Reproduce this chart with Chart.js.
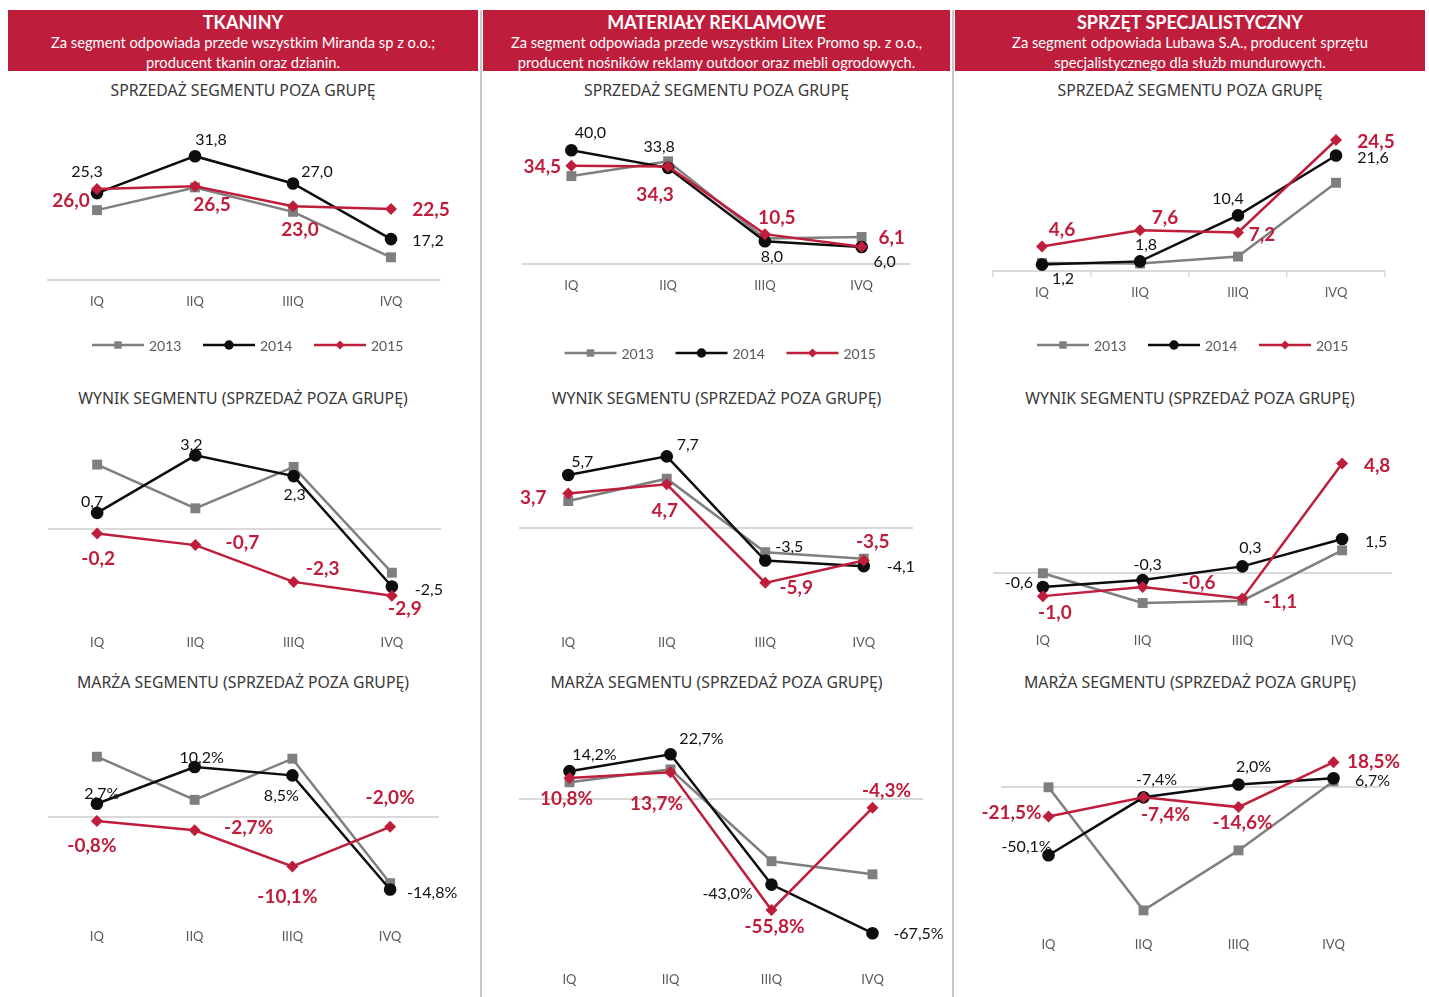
<!DOCTYPE html>
<html>
<head>
<meta charset="utf-8">
<script src="https://cdn.jsdelivr.net/npm/chart.js@4"></script>
<style>
  body { margin: 0; width: 1429px; height: 997px; position: relative; overflow: hidden; background: #fff; font-family: Lato, sans-serif; }
  .hdr { position: absolute; top: 10px; height: 61px; padding-top: 2px; box-sizing: border-box; background: #be1e3c; color: #fff; text-align: center; }
  .hdr b { display: block; font-size: 18px; line-height: 20px; }
  .hdr span { display: block; font-size: 14.7px; line-height: 20px; }
  .ttl { position: absolute; height: 20px; line-height: 20px; text-align: center; font-family: 'Noto Sans', sans-serif; font-size: 15.8px; color: #383838; }
  .vl { position: absolute; top: 10px; bottom: 0; width: 2px; background: #c8c8c8; }
  canvas { position: absolute; }
</style>
</head>
<body>
<div class="vl" style="left:480px"></div>
<div class="vl" style="left:952px"></div>

<div class="hdr" style="left:8px;width:470px"><b>TKANINY</b><span>Za segment odpowiada przede wszystkim Miranda sp z o.o.;</span><span>producent tkanin oraz dzianin.</span></div>
<div class="hdr" style="left:483px;width:467px"><b>MATERIAŁY REKLAMOWE</b><span>Za segment odpowiada przede wszystkim Litex Promo sp. z o.o.,</span><span>producent nośników reklamy outdoor oraz mebli ogrodowych.</span></div>
<div class="hdr" style="left:955px;width:470px"><b>SPRZĘT SPECJALISTYCZNY</b><span>Za segment odpowiada Lubawa S.A., producent sprzętu</span><span>specjalistycznego dla służb mundurowych.</span></div>

<div id="titles"></div>

<script>
const quarters = ['IQ', 'IIQ', 'IIIQ', 'IVQ'];
const years = ['2013', '2014', '2015'];

// TKANINY
const tkSales13 = [22.3, 26.3, 22.0, 14.0];
const tkSales14 = [25.3, 31.8, 27.0, 17.2];
const tkSales15 = [26.0, 26.5, 23.0, 22.5];
const tkResult13 = [2.8, 0.9, 2.7, -1.9];
const tkResult14 = [0.7, 3.2, 2.3, -2.5];
const tkResult15 = [-0.2, -0.7, -2.3, -2.9];
const tkMargin13 = [12.3, 3.5, 11.9, -13.5];
const tkMargin14 = [2.7, 10.2, 8.5, -14.8];
const tkMargin15 = [-0.8, -2.7, -10.1, -2.0];

// MATERIAŁY REKLAMOWE
const mrSales13 = [30.9, 36.1, 9.0, 9.5];
const mrSales14 = [40.0, 33.8, 8.0, 6.0];
const mrSales15 = [34.5, 34.3, 10.5, 6.1];
const mrResult13 = [2.9, 5.3, -2.6, -3.3];
const mrResult14 = [5.7, 7.7, -3.5, -4.1];
const mrResult15 = [3.7, 4.7, -5.9, -3.5];
const mrMargin13 = [8.6, 15.1, -31.2, -37.8];
const mrMargin14 = [14.2, 22.7, -43.0, -67.5];
const mrMargin15 = [10.8, 13.7, -55.8, -4.3];

// SPRZĘT SPECJALISTYCZNY
const ssSales13 = [1.5, 1.4, 2.7, 16.5];
const ssSales14 = [1.2, 1.8, 10.4, 21.6];
const ssSales15 = [4.6, 7.6, 7.2, 24.5];
const ssResult13 = [0.0, -1.3, -1.2, 1.0];
const ssResult14 = [-0.6, -0.3, 0.3, 1.5];
const ssResult15 = [-1.0, -0.6, -1.1, 4.8];
const ssMargin13 = [0.0, -90.7, -46.5, 4.4];
const ssMargin14 = [-50.1, -7.4, 2.0, 6.7];
const ssMargin15 = [-21.5, -7.4, -14.6, 18.5];

const rowTitles = ['SPRZEDAŻ SEGMENTU POZA GRUPĘ', 'WYNIK SEGMENTU (SPRZEDAŻ POZA GRUPĘ)', 'MARŻA SEGMENTU (SPRZEDAŻ POZA GRUPĘ)'];

const RED = '#be1e3c', BLACK = '#0d0d0d', GREY = '#7f7f7f';

// box = chart area [left, top, right, bottom] in page pixels
const charts = [
  { box: [48, 138, 440, 280], min: 10, max: 35, step: 5, axis: 'line', legend: 65,
    series: [tkSales13, tkSales14, tkSales15],
    off14: [[-10, -21], [16, -16], [24, -12], [37, 2]], off15: [[-26, 12], [17, 19], [7, 24], [40, 1]] },
  { box: [523, 136, 910, 264], min: 0, max: 45, step: 5, axis: 'line', legend: 89,
    series: [mrSales13, mrSales14, mrSales15],
    off14: [[19, -17], [-9, -21], [7, 16], [23, 15]], off15: [[-29, 1], [-13, 28], [12, -16], [30, -9]] },
  { box: [993, 132, 1385, 271], min: 0, max: 26, step: 2, axis: 'ticks', legend: 74,
    series: [ssSales13, ssSales14, ssSales15],
    off14: [[21, 14], [6, -17], [-10, -17], [37, 2]], off15: [[20, -17], [25, -12], [24, 2], [40, 2]] },
  { box: [48, 437, 441, 621], min: -4, max: 4, step: 1, axis: 'none',
    series: [tkResult13, tkResult14, tkResult15],
    off14: [[-5, -11], [-4, -11], [1, 19], [37, 3]], off15: [[1, 25], [47, -2], [29, -13], [13, 13]] },
  { box: [519, 435, 913, 621], min: -10, max: 10, step: 2, axis: 'none',
    series: [mrResult13, mrResult14, mrResult15],
    off14: [[14, -13], [21, -12], [24, -14], [37, 1]], off15: [[-35, 4], [-2, 27], [31, 5], [9, -19]] },
  { box: [993, 436, 1392, 619], min: -2, max: 6, step: 1, axis: 'none',
    series: [ssResult13, ssResult14, ssResult15],
    off14: [[-24, -4], [5, -15], [8, -19], [34, 3]], off15: [[12, 17], [56, -4], [38, 3], [35, 2]] },
  { box: [48, 719, 439, 915], min: -20, max: 20, step: 5, axis: 'none', pct: true,
    series: [tkMargin13, tkMargin14, tkMargin15],
    off14: [[5, -10], [7, -9], [-11, 20], [42, 3]], off15: [[-5, 25], [54, -2], [-5, 30], [0, -29]] },
  { box: [519, 720, 923, 958], min: -80, max: 40, step: 20, axis: 'none', pct: true,
    series: [mrMargin13, mrMargin14, mrMargin15],
    off14: [[25, -16], [31, -15], [-44, 9], [46, 1]], off15: [[-3, 21], [-14, 32], [3, 17], [14, -17]] },
  { box: [1001, 733, 1381, 923], min: -100, max: 40, step: 20, axis: 'none', pct: true,
    series: [ssMargin13, ssMargin14, ssMargin15],
    off14: [[-22, -8], [13, -17], [15, -18], [39, 3]], off15: [[-37, -4], [22, 18], [4, 16], [40, 0]] }
];

const fmt = (v, pct) => v.toFixed(1).replace('.', ',') + (pct ? '%' : '');

function marker(ctx, style, x, y, r) {
  ctx.beginPath();
  if (style === 'circle') ctx.arc(x, y, r, 0, Math.PI * 2);
  else if (style === 'rect') ctx.rect(x - r * 0.71, y - r * 0.71, r * 1.42, r * 1.42);
  else { ctx.moveTo(x, y - r); ctx.lineTo(x + r, y); ctx.lineTo(x, y + r); ctx.lineTo(x - r, y); ctx.closePath(); }
  ctx.fill();
}

// value labels next to the points
const pointLabels = {
  id: 'pointLabels',
  afterDatasetsDraw(chart, args, opts) {
    const ctx = chart.ctx;
    chart.data.datasets.forEach((ds, i) => {
      if (!ds.labelOffsets) return;
      const meta = chart.getDatasetMeta(i);
      ctx.save();
      ctx.font = ds.labelFont;
      ctx.fillStyle = ds.labelColor;
      ctx.textAlign = 'center';
      ctx.textBaseline = 'middle';
      meta.data.forEach((pt, j) => {
        const o = ds.labelOffsets[j];
        ctx.fillText(fmt(ds.data[j], opts.pct), pt.x + o[0], pt.y + o[1]);
      });
      ctx.restore();
    });
  }
};

// legend drawn as line + marker, like the office chart
const lineLegend = {
  id: 'lineLegend',
  afterDraw(chart, args, opts) {
    if (!opts.gap) return;
    const { ctx, chartArea } = chart;
    const y = chartArea.bottom + opts.gap;
    const sets = chart.data.datasets;
    let x = (chartArea.left + chartArea.right) / 2 + 4 - (sets.length * 111 - 21) / 2;
    ctx.save();
    ctx.font = '14px Lato';
    ctx.textBaseline = 'middle';
    sets.forEach(ds => {
      ctx.strokeStyle = ds.borderColor;
      ctx.fillStyle = ds.backgroundColor;
      ctx.lineWidth = ds.borderWidth;
      ctx.beginPath(); ctx.moveTo(x, y); ctx.lineTo(x + 52, y); ctx.stroke();
      marker(ctx, ds.pointStyle, x + 26, y, ds.pointRadius * 0.75);
      ctx.fillStyle = '#595959';
      ctx.fillText(ds.label, x + 57, y + 1);
      x += 111;
    });
    ctx.restore();
  }
};

Chart.defaults.font.family = 'Lato';

const titlesDiv = document.getElementById('titles');
const colBox = [[8, 470], [483, 467], [955, 470]];
const titleY = [90, 398, 682];
rowTitles.forEach((t, r) => colBox.forEach(c => {
  const d = document.createElement('div');
  d.className = 'ttl';
  d.style.left = c[0] + 'px'; d.style.width = c[1] + 'px'; d.style.top = (titleY[r] - 10) + 'px';
  d.textContent = t;
  titlesDiv.appendChild(d);
}));

charts.forEach(cfg => {
  const [L, T, R, B] = cfg.box;
  const M = 45, X_AXIS_H = 30;
  const extra = cfg.legend ? 105 : 35;
  const cv = document.createElement('canvas');
  cv.width = R - L + 2 * M; cv.height = B - T + M + extra;
  cv.style.left = (L - M) + 'px'; cv.style.top = (T - M) + 'px';
  document.body.appendChild(cv);

  const styles = [
    { color: GREY, pointStyle: 'rect', radius: 7 },
    { color: BLACK, pointStyle: 'circle', radius: 6.3, offs: cfg.off14, font: '16px Lato', lcolor: '#111' },
    { color: RED, pointStyle: 'rectRot', radius: 6, offs: cfg.off15, font: 'bold 19px Lato', lcolor: RED }
  ];

  new Chart(cv, {
    type: 'line',
    data: {
      labels: quarters,
      datasets: cfg.series.map((s, i) => ({
        label: years[i],
        data: s,
        borderColor: styles[i].color,
        backgroundColor: styles[i].color,
        borderWidth: 2.5,
        pointStyle: styles[i].pointStyle,
        pointRadius: styles[i].radius,
        pointBorderWidth: 0,
        tension: 0,
        clip: false,
        order: 2 - i,
        labelOffsets: styles[i].offs,
        labelFont: styles[i].font,
        labelColor: styles[i].lcolor
      }))
    },
    options: {
      responsive: false,
      animation: false,
      devicePixelRatio: 1,
      layout: { padding: { left: M, right: M, top: M, bottom: extra - X_AXIS_H } },
      plugins: {
        legend: { display: false },
        tooltip: { enabled: false },
        pointLabels: { pct: !!cfg.pct },
        lineLegend: { gap: cfg.legend || 0 }
      },
      scales: {
        x: {
          offset: true,
          afterFit: s => { s.height = X_AXIS_H; },
          border: { display: cfg.axis !== 'none', color: '#d9d9d9', width: 2 },
          grid: {
            display: cfg.axis === 'ticks',
            drawOnChartArea: false,
            drawTicks: cfg.axis === 'ticks',
            tickLength: 6,
            offset: true,
            color: '#d9d9d9',
            lineWidth: 1.5
          },
          ticks: { color: '#595959', font: { size: 13 }, padding: cfg.axis === 'ticks' ? 8 : 14 }
        },
        y: {
          min: cfg.min,
          max: cfg.max,
          afterFit: s => { s.width = 0; },
          border: { display: false },
          ticks: { display: false, stepSize: cfg.step },
          grid: {
            drawTicks: false,
            lineWidth: 2,
            color: c => (cfg.axis === 'none' && c.tick && c.tick.value === 0) ? '#d9d9d9' : 'rgba(0,0,0,0)'
          }
        }
      }
    },
    plugins: [pointLabels, lineLegend]
  });
});
</script>
</body>
</html>
